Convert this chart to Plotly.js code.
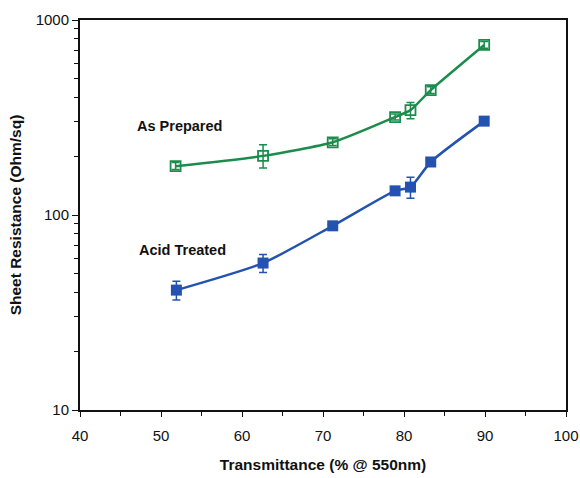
<!DOCTYPE html>
<html><head><meta charset="utf-8">
<script src="https://cdn.plot.ly/plotly-3.0.1.min.js"></script>
<style>body{margin:0;background:#fff}#c{width:580px;height:478px}</style>
</head><body><div id="c"></div>
<script>
const transPrepared = [51.8, 62.6, 71.2, 78.9, 80.8, 83.3, 89.9];
const resPrepared   = [178, 201, 236, 318, 345, 437, 745];
const errPrepPlus   = [8, 28, 10, 12, 33, 18, 30];
const errPrepMinus  = [7, 27, 9, 11, 33, 17, 28];

const transAcid = [51.9, 62.6, 71.2, 78.9, 80.8, 83.3, 89.9];
const resAcid   = [41.2, 56.7, 88, 133, 139, 187, 303];
const errAcidPlus  = [4.6, 6, 3, 4, 17, 5, 8];
const errAcidMinus = [4.6, 6, 3, 4, 17, 5, 8];

const xTickVals = [40, 50, 60, 70, 80, 90, 100];
const yTickVals = [10, 100, 1000];
const yMinorVals = [20,30,40,50,60,70,80,90,200,300,400,500,600,700,800,900];
const seriesLabels = ["As Prepared", "Acid Treated"];

const green = '#1b8c4c';
const blue = '#2352b0';

const traces = [
  {x: transPrepared, y: resPrepared, type: 'scatter', mode: 'lines+markers', name: seriesLabels[0],
   line: {color: green, width: 2.5, shape: 'spline', smoothing: 0.6},
   marker: {symbol: 'square-open', size: 10, color: green, line: {width: 1.8}},
   error_y: {type: 'data', symmetric: false, array: errPrepPlus, arrayminus: errPrepMinus, color: green, thickness: 1.5, width: 4}},
  {x: transAcid, y: resAcid, type: 'scatter', mode: 'lines+markers', name: seriesLabels[1],
   line: {color: blue, width: 2.5, shape: 'spline', smoothing: 0.6},
   marker: {symbol: 'square', size: 11, color: blue},
   error_y: {type: 'data', symmetric: false, array: errAcidPlus, arrayminus: errAcidMinus, color: blue, thickness: 1.5, width: 4}}
];

const layout = {
  width: 580, height: 478,
  margin: {l: 80, r: 14, t: 20, b: 68},
  showlegend: false,
  paper_bgcolor: '#fff', plot_bgcolor: '#fff',
  font: {family: 'Liberation Sans, Arial, sans-serif', size: 15, color: '#111'},
  xaxis: {
    range: [40, 100], tickvals: xTickVals, ticktext: xTickVals.map(String),
    ticks: 'outside', ticklen: 5, tickwidth: 1, tickcolor: '#111',
    showline: true, linecolor: '#111', linewidth: 2, mirror: true,
    showgrid: false, zeroline: false,
    minor: {dtick: 5, tick0: 0, ticks: 'outside', ticklen: 4, tickcolor: '#111', showgrid: false},
    tickfont: {size: 15}, ticklabelstandoff: 6,
    title: {text: '<b>Transmittance (% @ 550nm)</b>', font: {size: 15.5}, standoff: 16}
  },
  yaxis: {
    type: 'log', range: [1, 3], tickvals: yTickVals, ticktext: yTickVals.map(String),
    ticks: 'outside', ticklen: 6, tickwidth: 1, tickcolor: '#111',
    showline: true, linecolor: '#111', linewidth: 2, mirror: true,
    showgrid: false, zeroline: false,
    minor: {tickvals: yMinorVals, ticks: 'outside', ticklen: 4, tickcolor: '#111', showgrid: false},
    tickfont: {size: 15},
    title: {text: '<b>Sheet Resistance (Ohm/sq)</b>', font: {size: 15.5}, standoff: 10}
  },
  annotations: [
    {x: 46.8, y: Math.log10(286), xref: 'x', yref: 'y', text: '<b>' + seriesLabels[0] + '</b>', showarrow: false, xanchor: 'left', font: {size: 14.5, color: '#111'}},
    {x: 47.05, y: Math.log10(66), xref: 'x', yref: 'y', text: '<b>' + seriesLabels[1] + '</b>', showarrow: false, xanchor: 'left', font: {size: 14.5, color: '#111'}}
  ]
};

Plotly.newPlot('c', traces, layout, {displayModeBar: false, staticPlot: true});
</script></body></html>
